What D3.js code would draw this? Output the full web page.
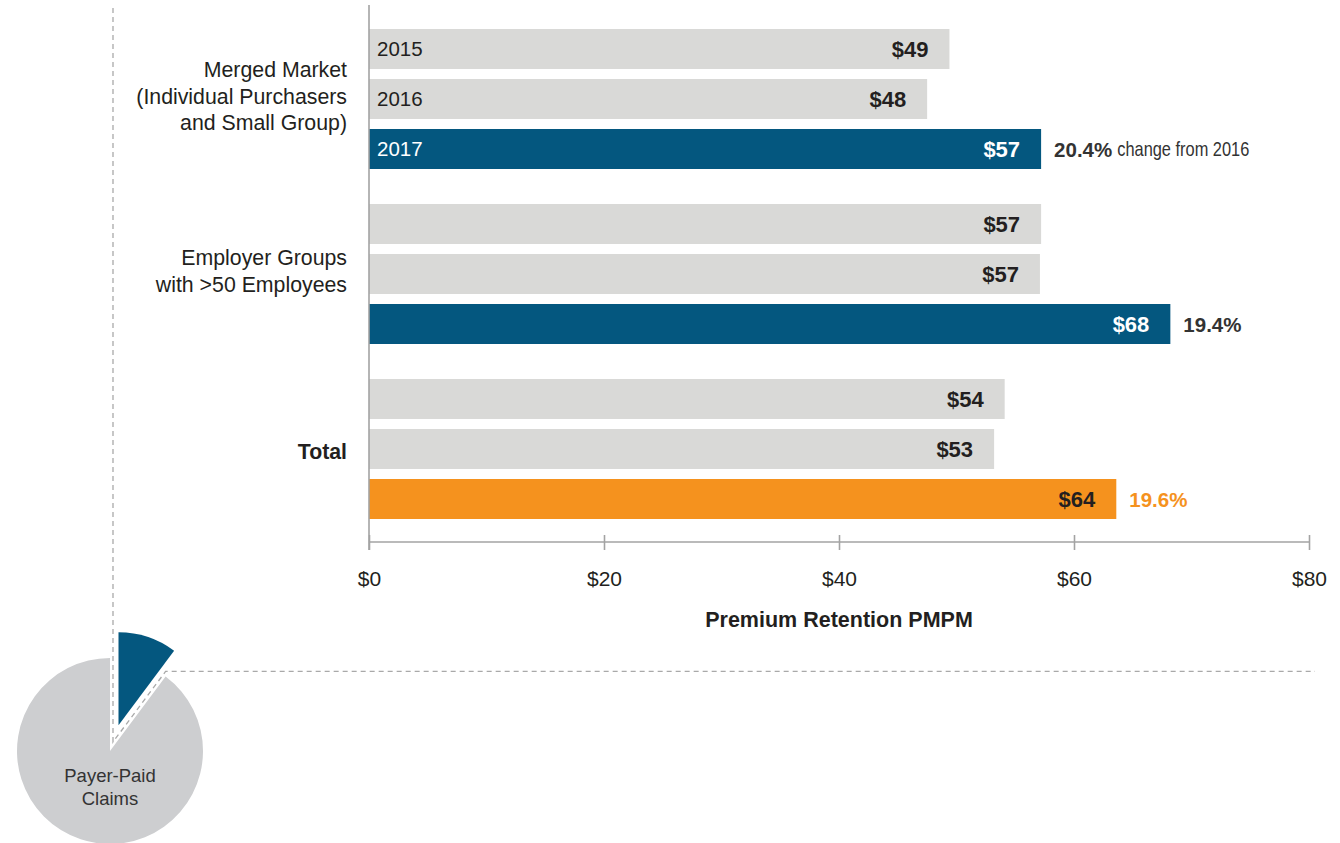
<!DOCTYPE html>
<html>
<head>
<meta charset="utf-8">
<script src="https://cdn.jsdelivr.net/npm/d3@7/dist/d3.min.js"></script>
<style>
  html, body { margin: 0; padding: 0; background: #fff; }
  svg { display: block; }
  text { font-family: "Liberation Sans", Arial, Helvetica, sans-serif; fill: #231f20; }
</style>
</head>
<body>
<svg id="chart" width="1340" height="843"></svg>
<script>
// Premium retention per member per month, by market segment and year
const groups = ["Merged Market", "Employer Groups", "Total"];
const groupLabelLines = [
  ["Merged Market", "(Individual Purchasers", "and Small Group)"],
  ["Employer Groups", "with >50 Employees"],
  ["Total"]
];
const years = ["2015", "2016", "2017"];
const mergedMarket = [49.4, 47.5, 57.2];
const employerGroups = [57.2, 57.1, 68.2];
const totalMarket = [54.1, 53.2, 63.6];
const changeLabels = ["20.4%", "19.4%", "19.6%"];
const xTicks = [0, 20, 40, 60, 80];
const axisTitle = "Premium Retention PMPM";

// Share of premium dollars: retention vs. claims paid
const pieLabels = ["Premium Retention", "Payer-Paid Claims"];
const pieShares = [10.2, 89.8];

const BLUE = "#04577f", ORANGE = "#f5921e", GREY = "#d9d9d7", PIE_GREY = "#cdced0";
const AXIS = "#a3a3a3", DASH = "#a9a9a9", DARK = "#231f20";

const seriesByGroup = [mergedMarket, employerGroups, totalMarket];
const rows = [];
groups.forEach((g, gi) => {
  years.forEach((y, yi) => {
    rows.push({ group: g, gi, year: y, yi, value: seriesByGroup[gi][yi] });
  });
});

const svg = d3.select("#chart");

const x = d3.scaleLinear().domain([0, 80]).range([369, 1309]);
const y0 = d3.scaleBand().domain(groups).range([29, 519]).paddingInner(0.2).paddingOuter(0);
const y1 = d3.scaleBand().domain(years).range([0, y0.bandwidth()]).paddingInner(0.2).paddingOuter(0);
const midY = d => y0(d.group) + y1(d.year) + y1.bandwidth() / 2;

function barColor(d) {
  if (d.yi < 2) return GREY;
  return d.gi === 2 ? ORANGE : BLUE;
}

// Bars
svg.append("g").selectAll("rect").data(rows).join("rect")
  .attr("x", x(0))
  .attr("y", d => y0(d.group) + y1(d.year))
  .attr("width", d => x(d.value) - x(0))
  .attr("height", y1.bandwidth())
  .attr("fill", barColor);

// Year labels inside the first group's bars
svg.append("g").selectAll("text").data(rows.filter(d => d.gi === 0)).join("text")
  .attr("x", x(0) + 8)
  .attr("y", midY)
  .attr("dy", "0.36em")
  .style("font-size", "20.5px")
  .style("fill", d => d.yi === 2 ? "#fff" : DARK)
  .text(d => d.year);

// Value labels at the end of each bar
const money = d3.format("$.0f");
svg.append("g").selectAll("text").data(rows).join("text")
  .attr("x", d => x(d.value) - 21)
  .attr("y", midY)
  .attr("dy", "0.37em")
  .attr("text-anchor", "end")
  .style("font-size", "22px")
  .style("font-weight", "bold")
  .style("fill", d => (d.yi === 2 && d.gi < 2) ? "#fff" : DARK)
  .text(d => money(d.value));

// Change labels beside the 2017 bars
const latest = rows.filter(d => d.yi === 2);
const pct = svg.append("g").selectAll("text").data(latest).join("text")
  .attr("x", d => x(d.value) + 13)
  .attr("y", midY)
  .attr("dy", "0.37em")
  .style("font-size", "20.5px")
  .style("font-weight", "bold")
  .style("fill", d => d.gi === 2 ? ORANGE : "#333")
  .text(d => changeLabels[d.gi]);

// Narrow caption after the first change label
const first = latest[0];
const pctWidth = pct.filter(d => d.gi === 0).node().getComputedTextLength();
svg.append("text")
  .attr("transform", `translate(${x(first.value) + 13 + pctWidth + 5},${midY(first)}) scale(0.82,1)`)
  .attr("dy", "0.37em")
  .style("font-size", "20px")
  .style("fill", "#333")
  .text("change from " + years[1]);

// Group labels on the left
const lineH = 26.5;
svg.append("g").selectAll("text").data(groups).join("text")
  .attr("text-anchor", "end")
  .style("font-size", "21.3px")
  .style("font-weight", (g, i) => i === 2 ? "bold" : "normal")
  .each(function (g, i) {
    const lines = groupLabelLines[i];
    const sel = d3.select(this);
    const y = y0(g) + y0.bandwidth() / 2 + (lines.length > 1 ? -3 : 2);
    lines.forEach((t, li) => {
      sel.append("tspan")
        .attr("x", 347)
        .attr("y", y + (li - (lines.length - 1) / 2) * lineH)
        .attr("dy", "0.36em")
        .text(t);
    });
  });

// Vertical axis line
svg.append("line")
  .attr("x1", x(0)).attr("x2", x(0))
  .attr("y1", 5).attr("y2", 550)
  .attr("stroke", AXIS).attr("stroke-width", 1.6);

// Horizontal axis
const axisY = 541.5;
const xAxis = d3.axisBottom(x)
  .tickValues(xTicks)
  .tickFormat(d => "$" + d)
  .tickSizeInner(8.5)
  .tickSizeOuter(0);
const gx = svg.append("g").attr("transform", `translate(0,${axisY})`).call(xAxis);
gx.select(".domain").attr("stroke", AXIS).attr("stroke-width", 1.6);
gx.selectAll(".tick line").attr("y1", -6.5).attr("stroke", AXIS).attr("stroke-width", 1.6);
gx.selectAll(".tick text")
  .attr("y", 37).attr("dy", "0.36em")
  .style("font-size", "21px")
  .style("font-family", "\"Liberation Sans\", Arial, sans-serif")
  .attr("fill", DARK);

svg.append("text")
  .attr("x", (x(0) + x(80)) / 2)
  .attr("y", 619)
  .attr("dy", "0.36em")
  .attr("text-anchor", "middle")
  .style("font-size", "21.5px")
  .style("font-weight", "bold")
  .text(axisTitle);

// Pie with the retention slice pulled out
const cx = 110, cy = 751, r = 93, explode = 27;
const pie = d3.pie().sort(null).startAngle(0)(pieShares);
const arc = d3.arc().innerRadius(0).outerRadius(r);
const pg = svg.append("g").attr("transform", `translate(${cx},${cy})`);
pg.selectAll("path").data(pie).join("path")
  .attr("d", arc)
  .attr("fill", (d, i) => i === 0 ? BLUE : PIE_GREY)
  .attr("transform", (d, i) => {
    if (i !== 0) return null;
    const a = (d.startAngle + d.endAngle) / 2;
    return `translate(${explode * Math.sin(a)},${-explode * Math.cos(a)})`;
  });

pg.append("text")
  .attr("text-anchor", "middle")
  .style("font-size", "18.5px")
  .style("fill", "#333")
  .selectAll("tspan").data(["Payer-Paid", "Claims"]).join("tspan")
  .attr("x", 0)
  .attr("y", (d, i) => 24 + i * 23)
  .attr("dy", "0.36em")
  .text(d => d);

// Dashed leader tracing the gap left by the pulled-out slice
const a1 = pie[0].endAngle, off = 3;
const dir = [Math.sin(a1), -Math.cos(a1)];
const perp = [-Math.cos(a1), -Math.sin(a1)];
const tCorner = off * (1 + Math.cos(a1)) / Math.sin(a1);
const corner = [cx + off * perp[0] + tCorner * dir[0], cy + off * perp[1] + tCorner * dir[1]];
const tEnd = r + 4;
const elbow = [cx + off * perp[0] + tEnd * dir[0], cy + off * perp[1] + tEnd * dir[1]];
const leader = d3.path();
leader.moveTo(cx + off, 8);
leader.lineTo(corner[0], corner[1]);
leader.lineTo(elbow[0], elbow[1]);
leader.lineTo(1315, elbow[1]);
svg.append("path")
  .attr("d", leader.toString())
  .attr("fill", "none")
  .attr("stroke", DASH)
  .attr("stroke-width", 1.3)
  .attr("stroke-dasharray", "5,4");
</script>
</body>
</html>
